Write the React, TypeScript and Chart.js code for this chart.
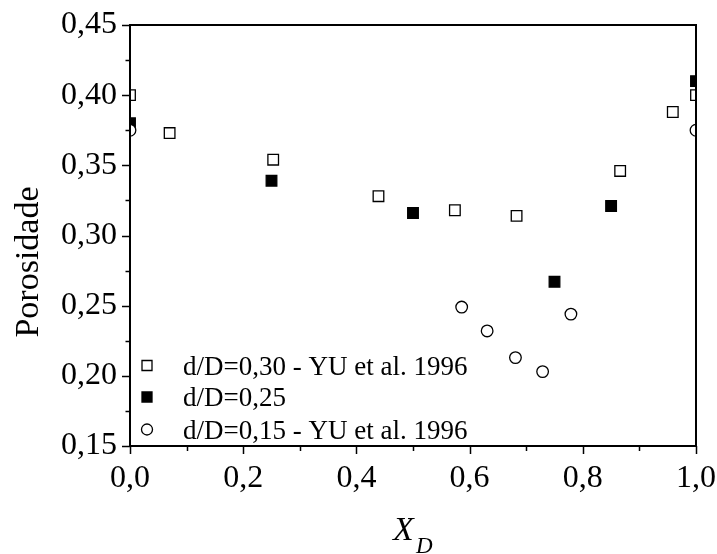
import React, { useEffect, useRef } from 'react';
import { Chart, registerables } from 'chart.js';

Chart.register(...registerables);

// Data
const seriesLabels = [
  'd/D=0,30 - YU et al. 1996',
  'd/D=0,25',
  'd/D=0,15 - YU et al. 1996',
];
const xOpenSquares = [0.0, 0.07, 0.253, 0.439, 0.574, 0.683, 0.866, 0.959, 1.0];
const yOpenSquares = [0.4, 0.373, 0.354, 0.328, 0.318, 0.314, 0.346, 0.388, 0.4];
const xFilledSquares = [0.0, 0.25, 0.5, 0.75, 0.85, 1.0];
const yFilledSquares = [0.38, 0.339, 0.316, 0.267, 0.321, 0.41];
const xCircles = [0.0, 0.586, 0.631, 0.681, 0.729, 0.779, 1.0];
const yCircles = [0.375, 0.249, 0.232, 0.213, 0.203, 0.244, 0.375];

const xTickValues = [0, 0.2, 0.4, 0.6, 0.8, 1.0];
const xMinorTickValues = [0.1, 0.3, 0.5, 0.7, 0.9];
const yTickValues = [0.15, 0.2, 0.25, 0.3, 0.35, 0.4, 0.45];
const yMinorTickValues = [0.175, 0.225, 0.275, 0.325, 0.375, 0.425];

const yTitle = 'Porosidade';
const xTitleMain = 'X';
const xTitleSub = 'D';

const SERIF = '"Liberation Serif", "Times New Roman", serif';

const decoPlugin = {
  id: 'deco',
  afterDraw(chart: any) {
    const { ctx, chartArea: ca, scales } = chart;
    const xs = scales.x;
    const ys = scales.y;
    ctx.save();
    ctx.strokeStyle = '#000';
    ctx.lineWidth = 2;
    ctx.strokeRect(ca.left, ca.top, ca.right - ca.left, ca.bottom - ca.top);
    ctx.lineWidth = 1.5;
    ctx.beginPath();
    yTickValues.forEach((v) => {
      const p = Math.round(ys.getPixelForValue(v)) + 0.5;
      ctx.moveTo(ca.left - 8, p);
      ctx.lineTo(ca.left, p);
    });
    yMinorTickValues.forEach((v) => {
      const p = Math.round(ys.getPixelForValue(v)) + 0.5;
      ctx.moveTo(ca.left - 4.5, p);
      ctx.lineTo(ca.left, p);
    });
    xTickValues.forEach((v) => {
      const p = Math.round(xs.getPixelForValue(v)) + 0.5;
      ctx.moveTo(p, ca.bottom);
      ctx.lineTo(p, ca.bottom + 8);
    });
    xMinorTickValues.forEach((v) => {
      const p = Math.round(xs.getPixelForValue(v)) + 0.5;
      ctx.moveTo(p, ca.bottom);
      ctx.lineTo(p, ca.bottom + 5);
    });
    ctx.stroke();

    // legend
    const ds = chart.data.datasets;
    const lx = ca.left + 17;
    const tx = ca.left + 53;
    const rowY = [365.5, 397, 429.5];
    ctx.font = `27px ${SERIF}`;
    ctx.textBaseline = 'middle';
    ctx.textAlign = 'left';
    ds.forEach((d: any, i: number) => {
      const y = rowY[i];
      ctx.lineWidth = 1.3;
      ctx.strokeStyle = '#000';
      ctx.fillStyle = d.backgroundColor;
      if (d.pointStyle === 'circle') {
        ctx.beginPath();
        ctx.arc(lx, y, 5.5, 0, Math.PI * 2);
        ctx.fill();
        ctx.stroke();
      } else {
        ctx.beginPath();
        ctx.rect(lx - 5, y - 5, 10, 10);
        ctx.fill();
        ctx.stroke();
      }
      ctx.fillStyle = '#000';
      ctx.fillText(d.label, tx, y + 2);
    });

    // titles
    ctx.fillStyle = '#000';
    ctx.save();
    ctx.translate(29, 262);
    ctx.rotate(-Math.PI / 2);
    ctx.font = `34px ${SERIF}`;
    ctx.textAlign = 'center';
    ctx.textBaseline = 'middle';
    ctx.fillText(yTitle, 0, 0);
    ctx.restore();

    ctx.textAlign = 'left';
    ctx.textBaseline = 'alphabetic';
    ctx.font = `italic 34px ${SERIF}`;
    ctx.fillText(xTitleMain, 393, 540);
    ctx.font = `italic 23px ${SERIF}`;
    ctx.fillText(xTitleSub, 416, 553);
    ctx.restore();
  },
};

export default function App() {
  const canvasRef = useRef<HTMLCanvasElement | null>(null);

  useEffect(() => {
    document.body.style.margin = '0';
    const canvas = canvasRef.current;
    if (!canvas) return;
    const mk = (xsArr: number[], ysArr: number[]) => xsArr.map((x, i) => ({ x, y: ysArr[i] }));
    const chart = new Chart(canvas, {
      type: 'scatter',
      data: {
        datasets: [
          {
            label: seriesLabels[0],
            data: mk(xOpenSquares, yOpenSquares),
            pointStyle: 'rect',
            backgroundColor: '#ffffff',
            borderColor: '#000000',
            borderWidth: 1.3,
            pointRadius: 7.5,
            order: 2,
            clip: 0,
          },
          {
            label: seriesLabels[1],
            data: mk(xFilledSquares, yFilledSquares),
            pointStyle: 'rect',
            backgroundColor: '#000000',
            borderColor: '#000000',
            borderWidth: 1.3,
            pointRadius: 7.5,
            order: 1,
            clip: 0,
          },
          {
            label: seriesLabels[2],
            data: mk(xCircles, yCircles),
            pointStyle: 'circle',
            backgroundColor: '#ffffff',
            borderColor: '#000000',
            borderWidth: 1.3,
            pointRadius: 5.8,
            order: 0,
            clip: 0,
          },
        ] as any,
      },
      options: {
        animation: false,
        responsive: true,
        maintainAspectRatio: false,
        layout: { padding: { left: 0, top: 25, right: 21, bottom: 0 } },
        plugins: { legend: { display: false }, tooltip: { enabled: false } },
        events: [],
        scales: {
          x: {
            type: 'linear',
            min: 0,
            max: 1,
            grid: { display: false, drawTicks: false },
            border: { display: false },
            afterFit: (s: any) => {
              s.height = 108;
              s.paddingLeft = 0;
              s.paddingRight = 0;
              s.paddingTop = 0;
              s.paddingBottom = 0;
            },
            afterBuildTicks: (s: any) => { s.ticks = xTickValues.map((v) => ({ value: v })); },
            ticks: {
              padding: 13,
              color: '#000',
              font: { family: SERIF, size: 32 },
              maxRotation: 0,
              callback: (v: any) => Number(v).toFixed(1).replace('.', ','),
            },
          },
          y: {
            type: 'linear',
            min: 0.15,
            max: 0.45,
            grid: { display: false, drawTicks: false },
            border: { display: false },
            afterFit: (s: any) => {
              s.width = 130;
              s.paddingLeft = 0;
              s.paddingRight = 0;
              s.paddingTop = 0;
              s.paddingBottom = 0;
            },
            afterBuildTicks: (s: any) => { s.ticks = yTickValues.map((v) => ({ value: v })); },
            ticks: {
              padding: 13,
              color: '#000',
              font: { family: SERIF, size: 32 },
              callback: (v: any) => Number(v).toFixed(2).replace('.', ','),
            },
          },
        },
      } as any,
      plugins: [decoPlugin],
    });
    return () => chart.destroy();
  }, []);

  return (
    <div style={{ position: 'absolute', left: 0, top: 0, width: 717, height: 554 }}>
      <canvas ref={canvasRef} />
    </div>
  );
}
